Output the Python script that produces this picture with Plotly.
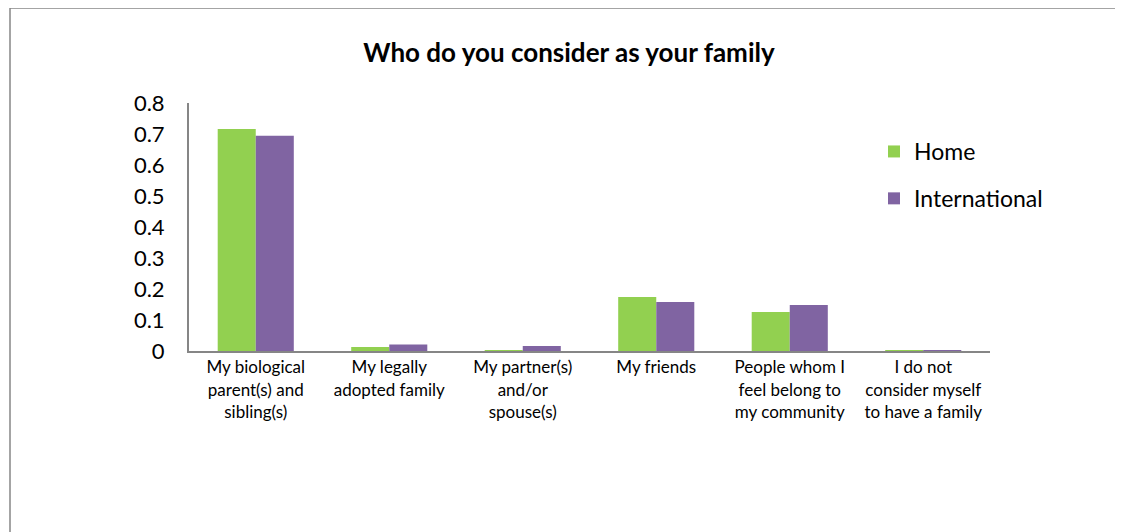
import plotly.graph_objects as go

categories = [
    "My biological<br>parent(s) and<br>sibling(s)",
    "My legally<br>adopted family",
    "My partner(s)<br>and/or<br>spouse(s)",
    "My friends",
    "People whom I<br>feel belong to<br>my community",
    "I do not<br>consider myself<br>to have a family",
]
home = [0.716, 0.013, 0.003, 0.174, 0.126, 0.003]
international = [0.694, 0.021, 0.016, 0.158, 0.148, 0.003]

FONT = "Lato"
W, H = 1123, 532
OFF = 8  # page body margin offset
L, R = 189 - OFF, W - (990 - OFF)
T, B = 103 - OFF, H - (351 - OFF)
pw, ph = W - L - R, H - T - B


def px_x(x):
    return (x - OFF - L) / pw


def px_y(y):
    return (H - B - (y - OFF)) / ph


fig = go.Figure()
fig.add_trace(go.Bar(name="Home", x=categories, y=home, marker_color="#92D050",
                     marker_line_width=0, legendgroup="a"))
fig.add_trace(go.Bar(name="International", x=categories, y=international, marker_color="#8064A2",
                     marker_line_width=0, legendgroup="b"))

fig.update_layout(
    width=W, height=H,
    margin=dict(l=L, r=R, t=T, b=B, autoexpand=False),
    paper_bgcolor="white", plot_bgcolor="white",
    font=dict(family=FONT, color="black", size=20),
    title=dict(text="<b>Who do you consider as your family</b>", x=(569 - OFF) / W, xanchor="center",
               y=1 - (53 - OFF) / H, yanchor="middle", font=dict(size=26, family=FONT)),
    barmode="group", bargap=0.43, bargroupgap=0,
    xaxis=dict(showgrid=False, showline=True, linecolor="#868686", linewidth=2,
               ticks="", tickangle=0, tickfont=dict(size=17), automargin=False),
    yaxis=dict(range=[0, 0.8], dtick=0.1, showgrid=False, showline=True, linecolor="#868686",
               linewidth=2, ticks="", tickfont=dict(size=22), tickformat="~g", automargin=False,
               zeroline=False, ticklabelstandoff=18),
    legend=dict(x=px_x(874), y=px_y(130), xanchor="left", yanchor="top",
                font=dict(size=23), tracegroupgap=14, traceorder="grouped",
                itemwidth=30, bgcolor="rgba(0,0,0,0)"),
    shapes=[dict(type="rect", xref="paper", yref="paper",
                 x0=px_x(10), x1=px_x(1140), y0=px_y(545), y1=px_y(8),
                 line=dict(color="#868686", width=1.5), layer="below")],
)

fig.write_html("out.html")
